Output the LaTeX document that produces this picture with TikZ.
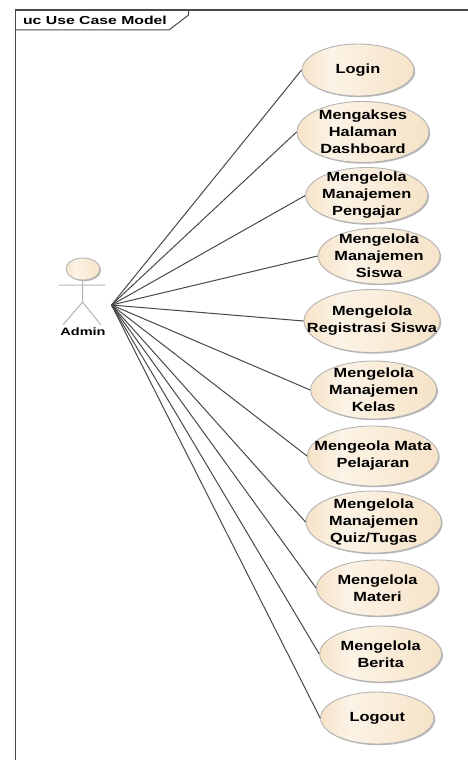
\documentclass[tikz,border=0pt]{standalone}
\usepackage{fontspec}
\usetikzlibrary{shapes.geometric,shadows}
\newfontfamily\ucfont[FakeStretch=1.23]{Liberation Sans}
\newfontfamily\framefont[FakeStretch=1.36]{Liberation Sans}
\definecolor{ucedge}{HTML}{B4B4B4}
\definecolor{ucline}{HTML}{484848}
\definecolor{uctan}{HTML}{F6E3C8}
\definecolor{uclight}{HTML}{FCF3E6}
\pgfdeclarehorizontalshading{ucfill}{100bp}{color(0bp)=(uctan); color(25bp)=(uctan); color(38bp)=(uclight); color(75bp)=(uctan); color(100bp)=(uctan)}
\tikzset{
  usecase/.style={ellipse,draw=ucedge,line width=0.9pt,shading=ucfill,inner sep=0pt,
    drop shadow={shadow xshift=1.2pt,shadow yshift=-1.2pt,fill=black!35,opacity=0.8}},
  uctext/.style={align=center,inner sep=0pt,font=\ucfont\bfseries\fontsize{13.3}{17}\selectfont},
  link/.style={draw=ucline,line width=1pt},
  stick/.style={draw=ucedge,line width=1pt}
}
\begin{document}
\begin{tikzpicture}[x=1pt,y=-1pt]
\useasboundingbox (0,0) rectangle (468,760);
\coordinate (frameBL) at (15.5,760);
\coordinate (frameTL) at (15.5,10);
\coordinate (frameTR) at (468,10);
\draw[ucline,line width=1.2pt] (frameBL) -- (frameTL) -- (frameTR);
\draw[ucline,line width=1pt] (15.5,30) -- (169,30) -- (188.5,15) -- (188.5,10);
\node[inner sep=0pt,font=\framefont\bfseries\fontsize{11.6}{14}\selectfont] (frameName) at (95,20) {uc Use Case Model};

% actor
\node[usecase,minimum width=34pt,minimum height=22pt] (head) at (83,269) {};
\coordinate (neck) at (82.5,280);
\coordinate (hip) at (82.5,302);
\coordinate (armL) at (59,285);
\coordinate (armR) at (105,285);
\coordinate (footL) at (63,325);
\coordinate (footR) at (101,325);
\draw[stick] (neck) -- (hip) (armL) -- (armR) (footL) -- (hip) -- (footR);
\node[inner sep=0pt,font=\framefont\bfseries\fontsize{10.7}{13}\selectfont] (admin) at (83,332) {Admin};
\coordinate (hub) at (111.5,305);

% use cases
\foreach \name/\cx/\cy/\rx/\ry/\txt in {
  login/358/70/56/26/{Login},
  dashboard/363/132/66/30.5/{Mengakses\\Halaman\\Dashboard},
  pengajar/366.7/195.5/61/28/{Mengelola\\Manajemen\\Pengajar},
  siswa/379/256/61/28/{Mengelola\\Manajemen\\Siswa},
  registrasi/372/321/68/31.5/{Mengelola\\Registrasi Siswa},
  kelas/373.7/390/63/29/{Mengelola\\Manajemen\\Kelas},
  mapel/373/456/65.5/30/{Mengeola Mata\\Pelajaran},
  quiz/373.7/522/67.7/31/{Mengelola\\Manajemen\\Quiz/Tugas},
  materi/377.5/588/61/28/{Mengelola\\Materi},
  berita/380.7/654/61/28/{Mengelola\\Berita},
  logout/377.3/718/56.7/26/{Logout}}
{
  \node[usecase,minimum width=2*\rx pt,minimum height=2*\ry pt,
    label={[uctext]center:{\txt}}] (\name) at (\cx,\cy) {};
  \draw[link] (hub) -- (\name.west);
}
\end{tikzpicture}
\end{document}
